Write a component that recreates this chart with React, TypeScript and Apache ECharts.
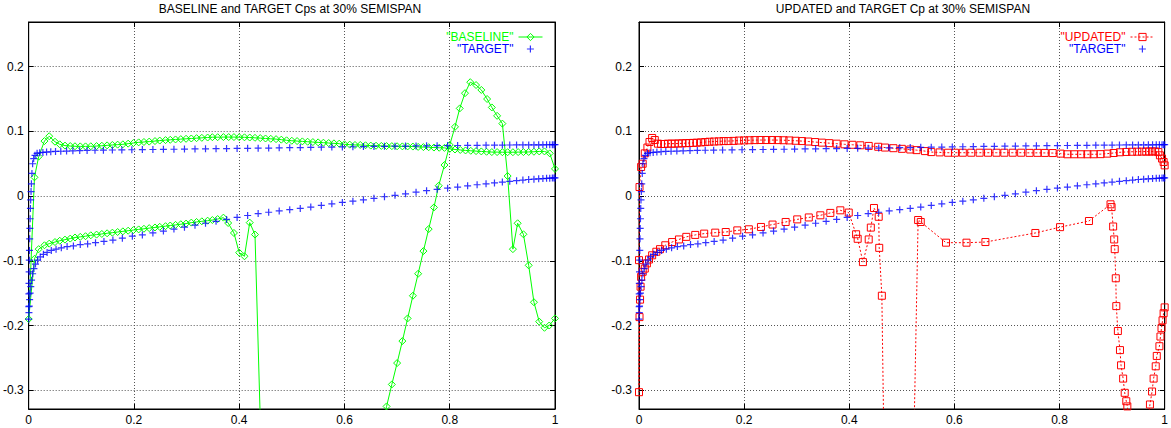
import React, { useEffect, useRef } from "react";
import * as echarts from "echarts";

const TITLE_LEFT = "BASELINE and TARGET Cps at 30% SEMISPAN";
const TITLE_RIGHT = "UPDATED and TARGET Cp at 30% SEMISPAN";
const NAME_BASELINE = '"BASELINE"';
const NAME_TARGET = '"TARGET"';
const NAME_UPDATED = '"UPDATED"';

const X_MIN = 0;
const X_MAX = 1;
const X_STEP = 0.2;
const Y_MIN = -0.329;
const Y_MAX = 0.269;

// TARGET Cp, leading edge -> trailing edge
const TARGET_UPPER: number[][] = [
  [0.0, -0.19], [0.0002, -0.171], [0.0004, -0.151], [0.0006, -0.135], [0.0009, -0.117], [0.0012, -0.099],
  [0.0015, -0.084], [0.0019, -0.066], [0.0023, -0.05], [0.0028, -0.035], [0.0033, -0.019], [0.0038, -0.006],
  [0.0045, 0.007], [0.0052, 0.019], [0.0062, 0.035], [0.0075, 0.05], [0.0095, 0.058], [0.012, 0.063],
  [0.016, 0.066], [0.021, 0.067], [0.027, 0.0675], [0.034, 0.068], [0.042, 0.0685], [0.051, 0.069],
  [0.061, 0.0693], [0.072, 0.0696], [0.084, 0.07], [0.097, 0.0703], [0.111, 0.0706], [0.126, 0.0708],
  [0.142, 0.071], [0.159, 0.0712], [0.177, 0.0714], [0.196, 0.0716], [0.216, 0.0718], [0.236, 0.072],
  [0.256, 0.0722], [0.276, 0.0724], [0.296, 0.0726], [0.316, 0.0728], [0.336, 0.073], [0.356, 0.0732],
  [0.376, 0.0734], [0.396, 0.0736], [0.416, 0.0738], [0.436, 0.074], [0.456, 0.0742], [0.476, 0.0745],
  [0.496, 0.0748], [0.516, 0.075], [0.536, 0.0753], [0.556, 0.0756], [0.576, 0.0758], [0.596, 0.076],
  [0.616, 0.0762], [0.636, 0.0765], [0.656, 0.0767], [0.676, 0.0769], [0.696, 0.0771], [0.716, 0.0773],
  [0.736, 0.0775], [0.756, 0.0777], [0.776, 0.0779], [0.796, 0.078], [0.815, 0.0782], [0.834, 0.0783],
  [0.852, 0.0785], [0.869, 0.0786], [0.885, 0.0787], [0.9, 0.0788], [0.914, 0.0789], [0.927, 0.079],
  [0.939, 0.079], [0.95, 0.0791], [0.96, 0.0791], [0.969, 0.0792], [0.977, 0.0792], [0.984, 0.0793],
  [0.99, 0.0793], [0.995, 0.0794], [0.998, 0.0794], [1.0, 0.0795],
];

const TARGET_LOWER: number[][] = [
  [0.0005, -0.18], [0.001, -0.17], [0.0018, -0.16], [0.0028, -0.15], [0.004, -0.14], [0.0055, -0.13],
  [0.0075, -0.12], [0.01, -0.112], [0.013, -0.105], [0.017, -0.099], [0.022, -0.094], [0.028, -0.09],
  [0.035, -0.087], [0.043, -0.084], [0.052, -0.082], [0.062, -0.08], [0.073, -0.078], [0.085, -0.077],
  [0.098, -0.075], [0.112, -0.074], [0.127, -0.072], [0.143, -0.07], [0.16, -0.068], [0.178, -0.065],
  [0.197, -0.062], [0.216, -0.06], [0.236, -0.057], [0.256, -0.054], [0.276, -0.051], [0.296, -0.048],
  [0.316, -0.045], [0.336, -0.042], [0.356, -0.039], [0.376, -0.036], [0.396, -0.033], [0.416, -0.03],
  [0.436, -0.027], [0.456, -0.025], [0.476, -0.023], [0.496, -0.021], [0.516, -0.019], [0.536, -0.017],
  [0.556, -0.0145], [0.576, -0.012], [0.596, -0.0098], [0.616, -0.0078], [0.636, -0.0058], [0.656, -0.0035],
  [0.676, -0.001], [0.696, 0.0012], [0.716, 0.0035], [0.736, 0.006], [0.756, 0.0083], [0.776, 0.0105],
  [0.796, 0.0123], [0.815, 0.014], [0.834, 0.0158], [0.852, 0.0175], [0.869, 0.019], [0.885, 0.0203],
  [0.9, 0.0216], [0.914, 0.0228], [0.927, 0.0238], [0.939, 0.0248], [0.95, 0.0256], [0.96, 0.0262],
  [0.969, 0.0267], [0.977, 0.0271], [0.984, 0.0274], [0.99, 0.0277], [0.995, 0.0279], [0.998, 0.028],
  [1.0, 0.028],
];

// BASELINE Cp, leading edge -> trailing edge
const BASELINE_UPPER: number[][] = [
  [0.0, -0.19], [0.011, 0.029], [0.019, 0.061], [0.03, 0.085], [0.039, 0.0925], [0.05, 0.084], [0.059, 0.08],
  [0.069, 0.078], [0.079, 0.0773], [0.088, 0.077], [0.098, 0.0768], [0.108, 0.0768], [0.118, 0.077],
  [0.129, 0.0773], [0.139, 0.0778], [0.149, 0.0784], [0.159, 0.079], [0.169, 0.0795], [0.179, 0.08],
  [0.189, 0.081], [0.199, 0.082], [0.209, 0.083], [0.219, 0.0836], [0.229, 0.0842], [0.24, 0.085],
  [0.249, 0.0858], [0.26, 0.0865], [0.269, 0.087], [0.279, 0.0875], [0.289, 0.088], [0.299, 0.0885],
  [0.309, 0.089], [0.319, 0.0895], [0.329, 0.09], [0.34, 0.0905], [0.349, 0.091], [0.359, 0.091],
  [0.37, 0.0912], [0.38, 0.0912], [0.39, 0.0912], [0.4, 0.091], [0.41, 0.0908], [0.42, 0.0905], [0.43, 0.09],
  [0.44, 0.0896], [0.45, 0.089], [0.46, 0.0885], [0.47, 0.088], [0.48, 0.0872], [0.49, 0.0862], [0.5, 0.0855],
  [0.51, 0.085], [0.52, 0.0845], [0.53, 0.084], [0.54, 0.0835], [0.55, 0.083], [0.56, 0.0825], [0.57, 0.082],
  [0.58, 0.0815], [0.59, 0.081], [0.6, 0.08], [0.61, 0.0795], [0.62, 0.079], [0.63, 0.079], [0.64, 0.0785],
  [0.65, 0.078], [0.66, 0.0778], [0.67, 0.0775], [0.68, 0.0773], [0.69, 0.0772], [0.7, 0.077], [0.71, 0.0768],
  [0.72, 0.0767], [0.73, 0.0765], [0.74, 0.076], [0.75, 0.0757], [0.76, 0.0755], [0.77, 0.075], [0.78, 0.0747],
  [0.79, 0.0745], [0.8, 0.073], [0.81, 0.072], [0.82, 0.0713], [0.83, 0.0705], [0.84, 0.07], [0.85, 0.0695],
  [0.86, 0.069], [0.87, 0.0685], [0.88, 0.068], [0.89, 0.068], [0.9, 0.0678], [0.91, 0.0678], [0.92, 0.0678],
  [0.93, 0.068], [0.94, 0.068], [0.95, 0.0682], [0.96, 0.0685], [0.97, 0.069], [0.98, 0.069], [0.99, 0.066],
  [1.0, 0.042],
];

const BASELINE_LOWER: number[][] = [
  [0.011, -0.097], [0.019, -0.082], [0.03, -0.076], [0.039, -0.0735], [0.05, -0.071], [0.059, -0.069],
  [0.069, -0.0673], [0.079, -0.0657], [0.088, -0.064], [0.098, -0.063], [0.108, -0.062], [0.118, -0.0606],
  [0.129, -0.0595], [0.139, -0.0585], [0.149, -0.0575], [0.159, -0.0565], [0.169, -0.0555], [0.179, -0.0545],
  [0.189, -0.0535], [0.199, -0.0525], [0.209, -0.0515], [0.219, -0.0505], [0.229, -0.0495], [0.24, -0.0485],
  [0.249, -0.0475], [0.26, -0.0465], [0.269, -0.0455], [0.279, -0.0445], [0.289, -0.0435], [0.299, -0.0425],
  [0.309, -0.041], [0.319, -0.04], [0.329, -0.039], [0.34, -0.038], [0.349, -0.037], [0.359, -0.0355],
  [0.37, -0.0333], [0.379, -0.0416], [0.39, -0.057], [0.4, -0.0874], [0.41, -0.093], [0.42, -0.041],
  [0.43, -0.0595], [0.44, -0.345], [0.45, -0.52], [0.47, -0.7], [0.5, -0.8], [0.55, -0.85], [0.6, -0.75],
  [0.64, -0.55], [0.66, -0.42], [0.67, -0.36], [0.68, -0.325], [0.69, -0.291], [0.7, -0.258], [0.71, -0.224],
  [0.72, -0.189], [0.73, -0.154], [0.74, -0.12], [0.75, -0.085], [0.76, -0.051], [0.77, -0.0175],
  [0.779, 0.016], [0.79, 0.048], [0.8, 0.079], [0.81, 0.107], [0.819, 0.1355], [0.829, 0.159], [0.839, 0.176],
  [0.85, 0.1716], [0.86, 0.164], [0.871, 0.15], [0.88, 0.137], [0.89, 0.124], [0.9, 0.112], [0.91, 0.031],
  [0.92, -0.082], [0.929, -0.042], [0.94, -0.059], [0.95, -0.107], [0.96, -0.164], [0.97, -0.194],
  [0.98, -0.2035], [0.989, -0.2], [1.0, -0.189],
];

// UPDATED Cp, leading edge -> trailing edge
const UPDATED_UPPER: number[][] = [
  [0.001, 0.014], [0.004, 0.045], [0.007, 0.05], [0.011, 0.066], [0.016, 0.075], [0.02, 0.0836], [0.025, 0.0898],
  [0.03, 0.0866], [0.036, 0.081], [0.042, 0.0805], [0.048, 0.0805], [0.055, 0.081], [0.062, 0.081], [0.068, 0.081],
  [0.075, 0.0813], [0.082, 0.0815], [0.089, 0.0818], [0.096, 0.082], [0.103, 0.0822], [0.11, 0.0825],
  [0.118, 0.083], [0.126, 0.0835], [0.134, 0.084], [0.143, 0.0843], [0.152, 0.0846], [0.161, 0.085],
  [0.17, 0.085], [0.18, 0.0853], [0.19, 0.0858], [0.2, 0.086], [0.21, 0.0863], [0.22, 0.0865], [0.231, 0.0866],
  [0.242, 0.0866], [0.253, 0.0866], [0.264, 0.0865], [0.275, 0.0863], [0.286, 0.086], [0.298, 0.0855],
  [0.31, 0.085], [0.322, 0.0843], [0.335, 0.0835], [0.348, 0.0826], [0.362, 0.0818], [0.376, 0.081],
  [0.391, 0.08], [0.406, 0.0793], [0.421, 0.0785], [0.437, 0.0775], [0.455, 0.0762], [0.468, 0.075],
  [0.484, 0.074], [0.5, 0.073], [0.516, 0.072], [0.528, 0.071], [0.544, 0.0695], [0.556, 0.068],
  [0.572, 0.0675], [0.588, 0.067], [0.601, 0.067], [0.616, 0.067], [0.632, 0.067], [0.648, 0.067],
  [0.664, 0.067], [0.68, 0.067], [0.695, 0.067], [0.711, 0.067], [0.727, 0.067], [0.743, 0.0668],
  [0.758, 0.0668], [0.772, 0.0667], [0.787, 0.0665], [0.802, 0.0656], [0.815, 0.0646], [0.828, 0.0646],
  [0.841, 0.0646], [0.853, 0.0646], [0.865, 0.0646], [0.878, 0.0648], [0.891, 0.0656], [0.903, 0.0666],
  [0.915, 0.0677], [0.927, 0.0682], [0.938, 0.0685], [0.948, 0.0686], [0.957, 0.0687], [0.965, 0.0688],
  [0.971, 0.0688], [0.976, 0.0689], [0.982, 0.069], [0.988, 0.068], [0.991, 0.063], [0.995, 0.058],
  [0.998, 0.0527], [1.0, 0.0475],
];

const UPDATED_LOWER: number[][] = [
  [0.0, -0.099], [0.0, -0.303], [0.001, -0.187], [0.002, -0.16], [0.003, -0.14], [0.004, -0.125],
  [0.007, -0.117], [0.011, -0.112], [0.015, -0.104], [0.019, -0.098], [0.025, -0.0915], [0.033, -0.086],
  [0.04, -0.082], [0.05, -0.076], [0.063, -0.071], [0.076, -0.067], [0.09, -0.063], [0.107, -0.06],
  [0.124, -0.058], [0.145, -0.0565], [0.165, -0.0555], [0.187, -0.053], [0.209, -0.0513], [0.232, -0.0477],
  [0.254, -0.044], [0.279, -0.04], [0.301, -0.036], [0.323, -0.033], [0.345, -0.0297], [0.364, -0.026],
  [0.383, -0.022], [0.399, -0.0255], [0.413, -0.059], [0.416, -0.066], [0.426, -0.102], [0.437, -0.067],
  [0.441, -0.0487], [0.447, -0.0184], [0.456, -0.032], [0.457, -0.08], [0.462, -0.154], [0.47, -0.62],
  [0.49, -0.9], [0.505, -0.8], [0.52, -0.5], [0.531, -0.037], [0.536, -0.04], [0.584, -0.072],
  [0.623, -0.072], [0.659, -0.071], [0.754, -0.057], [0.801, -0.048], [0.856, -0.0385], [0.897, -0.0127],
  [0.899, -0.017], [0.902, -0.047], [0.904, -0.067], [0.905, -0.082], [0.907, -0.127], [0.908, -0.17],
  [0.911, -0.2085], [0.915, -0.238], [0.917, -0.2615], [0.921, -0.282], [0.924, -0.304], [0.927, -0.317],
  [0.929, -0.325], [0.935, -0.36], [0.95, -0.42], [0.965, -0.37], [0.972, -0.322], [0.976, -0.302],
  [0.979, -0.282], [0.983, -0.263], [0.985, -0.247], [0.99, -0.232], [0.992, -0.217], [0.994, -0.204],
  [0.996, -0.192], [0.998, -0.181], [1.0, -0.172],
];

const FONT = "'Liberation Sans', Arial, Helvetica, sans-serif";
const GREEN = "#00ff00";
const BLUE = "#0000ff";
const RED = "#ff0000";
const CLEAR = "rgba(0,0,0,0)";
const PLUS = "path://M3.5,0L3.5,7M0,3.5L7,3.5";
const PLUS_LEGEND = "path://M0,0M24,9M12,1L12,8M8.5,4.5L15.5,4.5";
const DIAMOND = "path://M3.5,0L7,3.5L3.5,7L0,3.5Z";
const SQUARE = "path://M0,0L7,0L7,7L0,7Z";

function axesFor(gridIndex: number, labelMargin: number) {
  const tick = { show: true, inside: true, length: 5, lineStyle: { color: "#000", width: 1 } };
  const line = { show: true, onZero: false, lineStyle: { color: "#000", width: 1 } };
  const split = { show: true, lineStyle: { color: "#555", width: 1, type: [1, 2] } };
  const label = { color: "#000", fontSize: 12, fontFamily: FONT };
  const x = [
    {
      type: "value", gridIndex, min: X_MIN, max: X_MAX, interval: X_STEP, position: "bottom",
      axisLine: line, axisTick: tick, splitLine: split,
      axisLabel: { ...label, margin: 5 },
    },
    {
      type: "value", gridIndex, min: X_MIN, max: X_MAX, interval: X_STEP, position: "top",
      axisLine: line, axisTick: tick, splitLine: { show: false }, axisLabel: { show: false },
    },
  ];
  const y = [
    {
      type: "value", gridIndex, min: Y_MIN, max: Y_MAX, position: "left",
      axisLine: line, axisTick: tick, splitLine: split,
      axisLabel: { ...label, margin: labelMargin, showMinLabel: false, showMaxLabel: false },
    },
    {
      type: "value", gridIndex, min: Y_MIN, max: Y_MAX, position: "right",
      axisLine: line, axisTick: tick, splitLine: { show: false }, axisLabel: { show: false },
    },
  ];
  return { x, y };
}

export default function App() {
  const ref = useRef<HTMLDivElement>(null);
  useEffect(() => {
    const chart = echarts.init(ref.current!, null, { renderer: "svg" });
    const a0 = axesFor(0, 5);
    const a1 = axesFor(1, 7);
    const baseline = [...BASELINE_UPPER].reverse().concat(BASELINE_LOWER);
    const updated = [...UPDATED_UPPER].reverse().concat(UPDATED_LOWER);
    const target = TARGET_UPPER.concat(TARGET_LOWER);

    const titleStyle = { fontSize: 12, fontWeight: "normal", color: "#000", fontFamily: FONT };
    const legendBase = {
      orient: "horizontal", align: "right", itemWidth: 24, itemHeight: 9, padding: 0,
      selectedMode: false, textStyle: { fontSize: 12, fontFamily: FONT },
    };
    const targetSeries = (i: number) => ({
      type: "scatter", name: NAME_TARGET, xAxisIndex: i * 2, yAxisIndex: i * 2, data: target,
      symbol: PLUS, symbolSize: 7,
      itemStyle: { color: BLUE, borderColor: BLUE, borderWidth: 1.2 },
      silent: true, z: 3,
    });

    const option: any = {
      animation: false,
      backgroundColor: "#fff",
      title: [
        { text: TITLE_LEFT, left: 290, top: 3, textAlign: "center", padding: 0, textStyle: titleStyle },
        { text: TITLE_RIGHT, left: 903, top: 3, textAlign: "center", padding: 0, textStyle: titleStyle },
      ],
      legend: [
        {
          ...legendBase, right: 628, top: 31,
          data: [{ name: NAME_BASELINE, textStyle: { color: GREEN }, itemStyle: { borderWidth: 1 }, lineStyle: { width: 1 } }],
        },
        {
          ...legendBase, right: 628, top: 43,
          data: [{ name: NAME_TARGET, icon: PLUS_LEGEND, textStyle: { color: BLUE }, itemStyle: { borderWidth: 1.2 } }],
        },
        {
          ...legendBase, right: 16, top: 31,
          data: [{ name: NAME_UPDATED, textStyle: { color: RED }, itemStyle: { borderWidth: 1 }, lineStyle: { width: 1 } }],
        },
        {
          ...legendBase, right: 16, top: 43,
          data: [{ name: NAME_TARGET, icon: PLUS_LEGEND, textStyle: { color: BLUE }, itemStyle: { borderWidth: 1.2 } }],
        },
      ],
      grid: [
        { left: 26, top: 22, width: 529, height: 387, show: true, borderColor: "#000", borderWidth: 1, backgroundColor: "transparent" },
        { left: 639, top: 22, width: 529, height: 387, show: true, borderColor: "#000", borderWidth: 1, backgroundColor: "transparent" },
      ],
      xAxis: [...a0.x, ...a1.x],
      yAxis: [...a0.y, ...a1.y],
      series: [
        {
          type: "line", name: NAME_BASELINE, xAxisIndex: 0, yAxisIndex: 0, data: baseline,
          symbol: DIAMOND, symbolSize: 7, showSymbol: true, showAllSymbol: true,
          itemStyle: { color: CLEAR, borderColor: GREEN, borderWidth: 1 },
          lineStyle: { color: GREEN, width: 1 },
          silent: true, z: 2, clip: true,
        },
        targetSeries(0),
        {
          type: "line", name: NAME_UPDATED, xAxisIndex: 2, yAxisIndex: 2, data: updated,
          symbol: SQUARE, symbolSize: 7, showSymbol: true, showAllSymbol: true,
          itemStyle: { color: CLEAR, borderColor: RED, borderWidth: 1 },
          lineStyle: { color: RED, width: 1, type: [2, 2] },
          silent: true, z: 2, clip: true,
        },
        targetSeries(1),
      ],
    };
    chart.setOption(option);
    return () => chart.dispose();
  }, []);
  return (
    <div
      ref={ref}
      style={{ position: "fixed", left: 0, top: 0, width: 1171, height: 428, background: "#fff" }}
    />
  );
}
